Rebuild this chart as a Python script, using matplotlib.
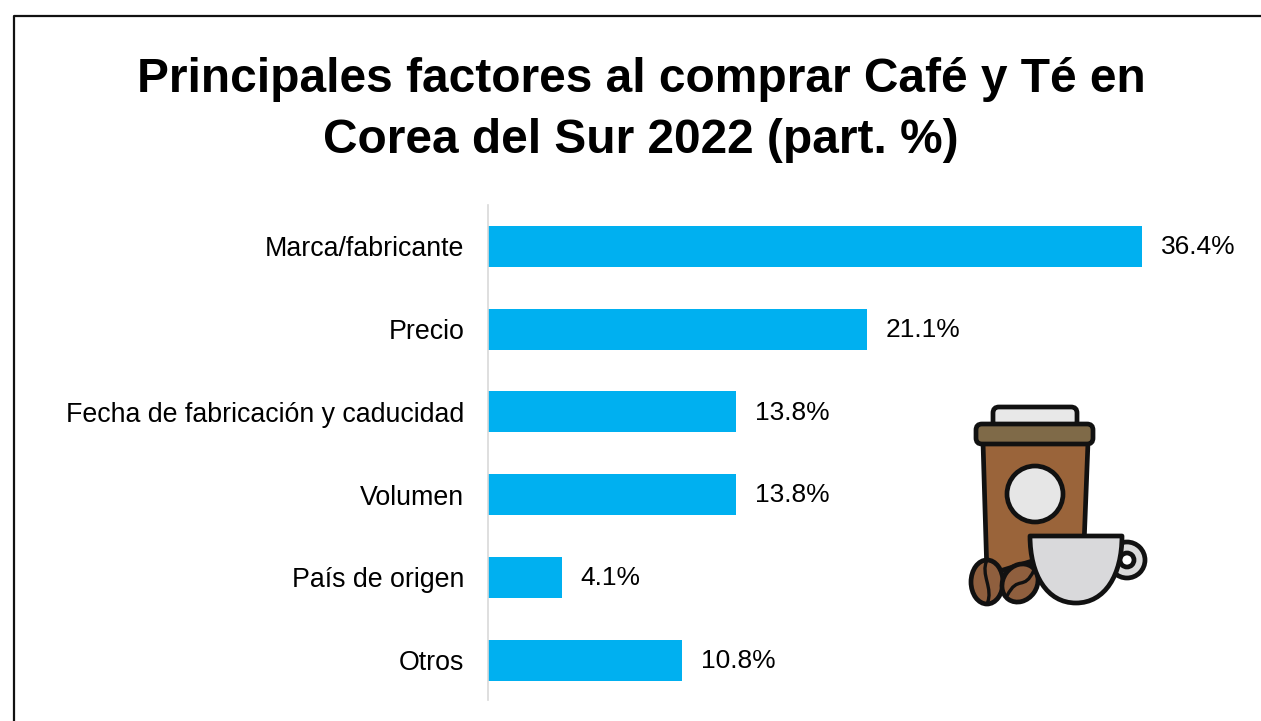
import matplotlib
matplotlib.use('Agg')
import matplotlib.pyplot as plt
from matplotlib.patches import Circle, FancyBboxPatch, Polygon, Ellipse, PathPatch
from matplotlib.path import Path

categories = ['Marca/fabricante', 'Precio', 'Fecha de fabricación y caducidad', 'Volumen', 'País de origen', 'Otros']
values = [36.4, 21.1, 13.8, 13.8, 4.1, 10.8]
title = 'Principales factores al comprar Café y Té en\nCorea del Sur 2022 (part. %)'

W, H = 1261, 721
plt.rcParams['font.family'] = ['Liberation Sans', 'DejaVu Sans']

fig = plt.figure(figsize=(W / 100, H / 100), dpi=100)
fig.patch.set_facecolor('white')

# marco exterior, se corta por la derecha y abajo
bg = fig.add_axes([0, 0, 1, 1])
bg.set_xlim(0, W)
bg.set_ylim(H, 0)
bg.axis('off')
bg.plot([14, 14, W], [H, 16, 16], color='#111111', lw=1.6)
bg.text(641, 110, title, ha='center', va='center', fontsize=34.5, fontweight='bold', linespacing=1.43)

# ejes de las barras: x=488 es cero, 36.4 llega a 1142
ax = fig.add_axes([488 / W, 1 - 700 / H, (1142 - 488) / W, (700 - 205) / H])
ypos = list(range(len(values)))
ax.barh(ypos, values, height=0.495, color='#00B0F0')
ax.set_xlim(0, 36.4)
ax.set_ylim(5.48, -0.5)
ax.set_yticks(ypos)
ax.set_yticklabels(categories, fontsize=19.3)
ax.tick_params(axis='y', length=0, pad=17)
ax.set_xticks([])
for s in ['top', 'right', 'bottom']:
    ax.spines[s].set_visible(False)
ax.spines['left'].set_color('#D9D9D9')
ax.spines['left'].set_linewidth(1.2)
ax.patch.set_alpha(0)
for y, v in zip(ypos, values):
    ax.annotate(f'{v}%', (v, y), xytext=(13.5, -0.5), textcoords='offset points', va='center', fontsize=19, annotation_clip=False)

# icono de cafe
k = '#111111'
lw = 3.4
brown = '#9A643A'
bg.set_zorder(1)
ax.set_zorder(0)

bg.add_patch(FancyBboxPatch((993, 407), 84, 20, boxstyle='round,pad=0,rounding_size=6', fc='#E8E8E8', ec=k, lw=lw, zorder=2))
bg.add_patch(Polygon([(983, 442), (1088, 442), (1084, 545), (987, 575)], fc=brown, ec=k, lw=lw, joinstyle='round', zorder=2))
bg.add_patch(FancyBboxPatch((976, 424), 117, 20, boxstyle='round,pad=0,rounding_size=6', fc='#7F6A48', ec=k, lw=lw, zorder=3))
bg.add_patch(Circle((1035, 494), 28, fc='#E6E6E6', ec=k, lw=lw, zorder=3))

# granos
for cx, cy, rx, ry, ang in [(987, 582, 16, 22, 0), (1020, 583, 17, 20, 35)]:
    bg.add_patch(Ellipse((cx, cy), rx * 2, ry * 2, angle=ang, fc='#8F5F3E', ec=k, lw=lw, zorder=4))
bean_lines = [[(987, 560), (980, 575), (994, 588), (987, 604)],
              [(1007, 596), (1018, 574), (1024, 592), (1034, 570)]]
for pts in bean_lines:
    bg.add_patch(PathPatch(Path(pts, [Path.MOVETO, Path.CURVE4, Path.CURVE4, Path.CURVE4]), fc='none', ec=k, lw=2.4, zorder=4))

# asa y taza
bg.add_patch(Circle((1127, 560), 18, fc='#D9D9D9', ec=k, lw=lw, zorder=4))
bg.add_patch(Circle((1127, 560), 7, fc='white', ec=k, lw=lw, zorder=4))
cup = Path([(1030, 536), (1122, 536), (1122, 575), (1105, 603), (1076, 603),
            (1047, 603), (1030, 575), (1030, 536), (1030, 536)],
           [Path.MOVETO, Path.LINETO, Path.CURVE4, Path.CURVE4, Path.CURVE4,
            Path.CURVE4, Path.CURVE4, Path.CURVE4, Path.CLOSEPOLY])
bg.add_patch(PathPatch(cup, fc='#D9D9DB', ec=k, lw=lw, joinstyle='round', zorder=5))

fig.savefig('out.png', dpi=100)
